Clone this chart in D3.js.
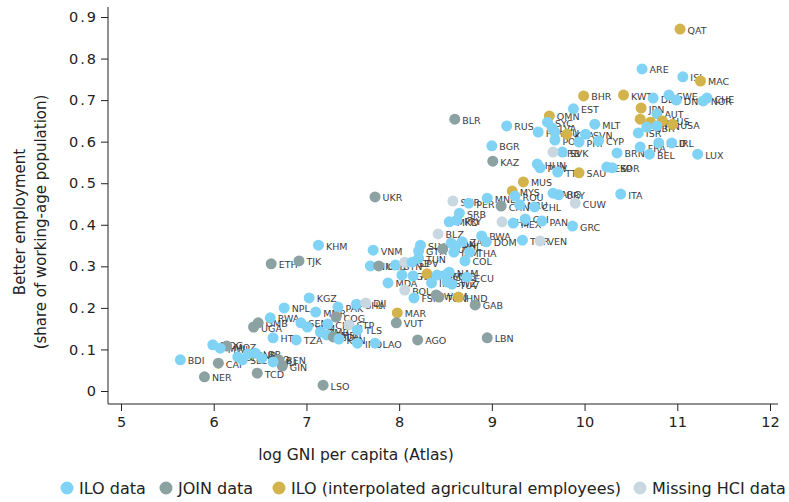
<!DOCTYPE html>
<html><head><meta charset="utf-8">
<script src="https://cdn.jsdelivr.net/npm/d3@7"></script>
<style>body{margin:0;background:#fff}svg{display:block}</style>
</head><body>
<svg id="chart" width="789" height="502"></svg>
<script>
const countries = ["QAT","ARE","ISL","MAC","BHR","KWT","DEU","SWE","DNK","CHE","NOR","JPN","NZL","AUT","CAN","AUS","USA","GBR","FIN","ISR","FRA","NLD","IRL","BEL","LUX","BRN","EST","OMN","MLT","RUS","SYC","LVA","LTU","HRV","POL","KNA","PRT","SVN","CYP","SVK","BRB","BLR","BGR","KAZ","HUN","PLW","TTO","SAU","ESP","KOR","MUS","MYS","ARG","URY","ROU","MNE","ITA","CUW","SUR","PER","CHN","NRU","CHL","SRB","PRY","MKD","BHS","MEX","CRI","PAN","GRC","BLZ","BWA","DOM","ZAF","TUR","VEN","SLV","IDN","PHL","GUY","JAM","THA","COL","GTM","KHM","ETH","TJK","UKR","VNM","NIC","UZB","BTN","PSE","CPV","TUN","EGY","LKA","ARM","GEO","MNG","NAM","ECU","TUV","SWZ","IRQ","MDA","BOL","FSM","WSM","TON","HND","GAB","KGZ","NPL","MMR","PAK","GHA","DJI","COG","MAR","VUT","RWA","GMB","UGA","YEM","SEN","CIV","STP","TLS","ZMB","CMR","SDN","KEN","HTI","TZA","IND","LAO","AGO","LBN","MOZ","MDG","MWI","BFA","SLE","LBR","GNB","TGO","BEN","GIN","MLI","CAF","BDI","NER","TCD","LSO"];
const sources = ["G","A","A","G","G","G","A","A","A","A","A","G","G","A","G","G","G","A","A","A","A","A","A","A","A","A","A","G","A","A","A","A","A","A","A","G","A","A","A","A","M","J","A","J","A","A","A","G","A","A","G","G","A","A","A","A","A","M","M","A","J","A","A","A","A","A","M","A","A","A","A","M","A","A","A","A","M","A","A","A","J","A","A","A","A","A","J","J","J","A","A","J","A","M","A","A","A","G","A","A","A","A","A","A","A","A","A","M","A","J","J","G","J","A","A","A","A","A","M","J","G","J","A","J","J","A","A","A","M","A","A","A","J","A","A","A","A","A","J","J","J","A","A","A","A","A","A","A","J","J","A","J","A","J","J","J"];
const logGNI = [11.03,10.62,11.06,11.25,9.99,10.42,10.74,10.91,10.99,11.32,11.28,10.61,10.60,10.78,10.71,10.84,10.95,10.67,10.78,10.58,10.60,10.80,10.94,10.70,11.22,10.35,9.88,9.62,10.11,9.16,9.60,9.65,9.68,9.50,9.68,9.81,9.94,10.01,10.15,9.76,9.66,8.60,9.00,9.01,9.49,9.52,9.71,9.94,10.24,10.30,9.34,9.22,9.66,9.72,9.25,8.95,10.39,9.90,8.58,8.75,9.10,9.30,9.46,8.65,8.62,8.54,9.11,9.23,9.36,9.54,9.87,8.42,8.89,8.94,8.68,9.33,9.52,8.23,8.56,8.61,8.47,8.59,8.76,8.71,8.21,7.13,6.62,6.92,7.74,7.72,7.69,7.78,7.96,8.06,8.14,8.21,8.03,8.30,8.15,8.41,8.50,8.54,8.73,8.57,8.52,8.35,7.88,8.06,8.16,8.40,8.43,8.64,8.82,7.03,6.76,7.10,7.34,7.54,7.64,7.32,7.98,7.97,6.61,6.48,6.43,7.01,6.94,7.23,7.46,7.55,7.15,7.22,7.29,7.35,6.64,6.89,7.55,7.74,8.20,8.95,6.14,5.99,6.07,6.26,6.31,6.45,6.37,6.52,6.70,6.74,6.64,6.05,5.64,5.90,6.47,7.18];
const betterEmployment = [0.871,0.775,0.756,0.746,0.710,0.712,0.705,0.712,0.700,0.705,0.698,0.681,0.654,0.667,0.647,0.650,0.642,0.635,0.638,0.621,0.587,0.597,0.597,0.570,0.570,0.573,0.679,0.662,0.642,0.638,0.647,0.633,0.623,0.623,0.604,0.618,0.599,0.618,0.602,0.575,0.575,0.654,0.590,0.553,0.546,0.537,0.527,0.525,0.539,0.537,0.503,0.481,0.476,0.472,0.469,0.464,0.474,0.452,0.457,0.452,0.445,0.448,0.443,0.428,0.411,0.407,0.407,0.404,0.414,0.409,0.397,0.378,0.373,0.359,0.359,0.363,0.361,0.351,0.356,0.349,0.342,0.334,0.334,0.313,0.337,0.351,0.306,0.313,0.467,0.339,0.301,0.301,0.303,0.310,0.310,0.320,0.279,0.282,0.277,0.279,0.279,0.286,0.274,0.257,0.262,0.260,0.260,0.243,0.224,0.231,0.226,0.226,0.207,0.224,0.200,0.190,0.202,0.209,0.212,0.178,0.188,0.164,0.176,0.164,0.154,0.154,0.164,0.161,0.159,0.147,0.142,0.135,0.130,0.125,0.128,0.123,0.115,0.115,0.123,0.128,0.108,0.111,0.103,0.082,0.075,0.091,0.089,0.079,0.075,0.060,0.070,0.067,0.075,0.034,0.043,0.014];
const xTicks = [5,6,7,8,9,10,11,12];
const yTicks = [0,0.1,0.2,0.3,0.4,0.5,0.6,0.7,0.8,0.9];
const legendKeys = ["A","J","G","M"];
const legendLabels = ["ILO data","JOIN data","ILO (interpolated agricultural employees)","Missing HCI data"];
const xTitle = "log GNI per capita (Atlas)";
const yTitle = ["Better employment","(share of working-age population)"];

const color = {A:"#80d3f5", J:"#8ba1a2", G:"#d3b44c", M:"#c9d8e0"};
const FONT = "'DejaVu Sans', sans-serif";

const svg = d3.select("#chart");
const x = d3.scaleLinear().domain([5,12]).range([121,770]);
const y = d3.scaleLinear().domain([0,0.9]).range([391,17]);
const axisX = 108, axisY = 404;

const data = countries.map((c,i)=>({code:c, src:sources[i], gx:logGNI[i], be:betterEmployment[i]}));

// axes
const gy = svg.append("g").attr("transform",`translate(${axisX},0)`)
  .call(d3.axisLeft(y).tickValues(yTicks).tickSize(7).tickPadding(3).tickFormat(d=>d===0?"0":d3.format(".1f")(d)));
gy.select(".domain").remove();
gy.append("line").attr("x1",0).attr("x2",0).attr("y1",7).attr("y2",axisY).attr("stroke","#222");
gy.selectAll(".tick line").attr("stroke","#222");
gy.selectAll(".tick text").attr("font-family",FONT).attr("font-size",14.5).attr("letter-spacing","2px").attr("fill","#222");

const gx = svg.append("g").attr("transform",`translate(0,${axisY})`)
  .call(d3.axisBottom(x).tickValues(xTicks).tickSize(7).tickPadding(6).tickFormat(d3.format("d")));
gx.select(".domain").remove();
gx.append("line").attr("x1",axisX).attr("x2",778).attr("y1",0).attr("y2",0).attr("stroke","#222");
gx.selectAll(".tick line").attr("stroke","#222");
gx.selectAll(".tick text").attr("font-family",FONT).attr("font-size",14.5).attr("fill","#222");

// titles
svg.append("text").attr("x",356).attr("y",460).attr("text-anchor","middle")
  .attr("font-family",FONT).attr("font-size",15.5).attr("fill","#222").text(xTitle);
yTitle.forEach((t,i)=>{
  svg.append("text").attr("transform",`translate(${25+i*21},222) rotate(-90)`).attr("text-anchor","middle")
    .attr("font-family",FONT).attr("font-size",15).attr("fill","#222").text(t);
});

// labels then points
const plot = svg.append("g");
plot.selectAll("text.lbl").data(data).join("text").attr("class","lbl")
  .attr("x",d=>x(d.gx)+7.5).attr("y",d=>y(d.be)+4.5)
  .attr("font-family",FONT).attr("font-size",9.5).attr("fill","#3c3c3c").text(d=>d.code);
plot.selectAll("circle").data(data).join("circle")
  .attr("cx",d=>x(d.gx)).attr("cy",d=>y(d.be)).attr("r",5.5).attr("fill",d=>color[d.src]);

// legend
const legX = [67,166,279,640];
legendKeys.forEach((k,i)=>{
  const g = svg.append("g").attr("transform",`translate(${legX[i]},488)`);
  g.append("circle").attr("r",6.5).attr("fill",color[k]);
  g.append("text").attr("x",12).attr("y",5.5).attr("font-family",FONT).attr("font-size",16).attr("fill","#222").text(legendLabels[i]);
});
</script>
</body></html>
